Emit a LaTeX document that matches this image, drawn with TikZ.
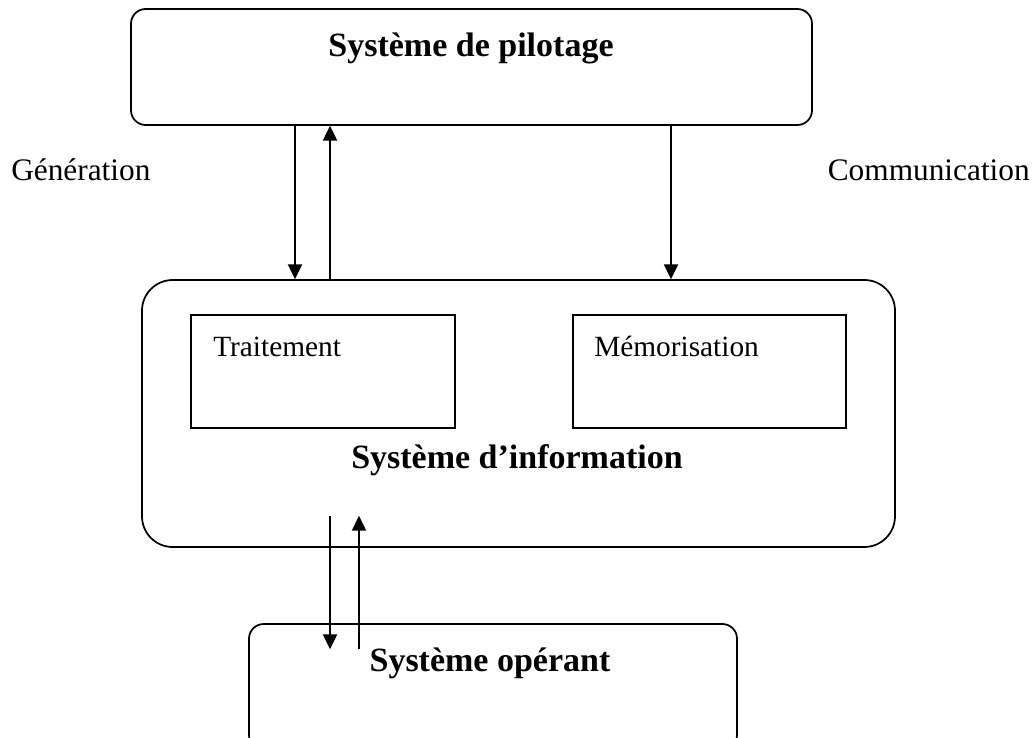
\documentclass[tikz,border=0pt]{standalone}
\usepackage{fontspec}
\setmainfont{Liberation Serif}
\usetikzlibrary{arrows.meta,calc,fit}
\begin{document}
\begin{tikzpicture}[x=0.75pt,y=-0.75pt,
  frame/.style={draw,line width=1.3pt,inner sep=0pt},
  softframe/.style={frame,rounded corners=11pt},
  bigframe/.style={frame,rounded corners=23pt},
  arr/.style={line width=1.4pt,-{Triangle[length=11pt,width=10.5pt]}},
  heading/.style={inner sep=0pt,anchor=base,font=\fontsize{25.5}{30}\selectfont\bfseries},
  side/.style={inner sep=0pt,font=\fontsize{23.5}{28}\selectfont},
  inner/.style={inner sep=0pt,anchor=base west,font=\fontsize{22}{26}\selectfont}]
\useasboundingbox (0,0) rectangle (1032,738);
\clip (0,0) rectangle (1032,738);

% the three systems and the two functions of the information system
\node[softframe,fit={(131,9) (812,125)}] (pil) {};
\node[bigframe,fit={(142,280) (895,547)}] (info) {};
\node[frame,fit={(191,315) (455,428)}] (trt) {};
\node[frame,fit={(573,315) (846,428)}] (mem) {};
\node[softframe,fit={(249,624) (737,750)}] (oper) {};

% labels
\node[heading] (tpil) at (471,57) {Système de pilotage};
\node[heading] (tinfo) at (517,468) {Système d’information};
\node[heading] (toper) at (490,671) {Système opérant};
\node[inner] (ttrt) at (213,356) {Traitement};
\node[inner] (tmem) at (594,356) {Mémorisation};
\node[side,anchor=base west] (gen) at (11,181) {Génération};
\node[side,anchor=base east] (com) at (1030,181) {Communication};

% vertical positions of the connectors
\coordinate (c1) at (295,0);
\coordinate (c2) at (330,0);
\coordinate (c3) at (671,0);
\coordinate (c4) at (330,0);
\coordinate (c5) at (359,0);

% pilotage <-> information
\draw[arr] (pil.south -| c1) -- (info.north -| c1);
\draw[arr] (info.north -| c2) -- (pil.south -| c2);
\draw[arr] (pil.south -| c3) -- (info.north -| c3);

% information <-> operant
\draw[arr] ($(info.south -| c4)+(0,-32)$) -- ($(oper.north -| c4)+(0,26)$);
\draw[arr] ($(oper.north -| c5)+(0,26)$) -- ($(info.south -| c5)+(0,-32)$);
\end{tikzpicture}
\end{document}
